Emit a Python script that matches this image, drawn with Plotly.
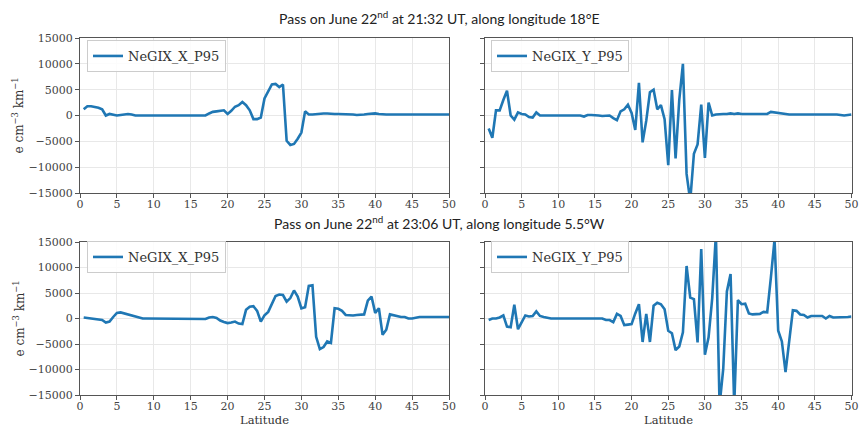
import plotly.graph_objects as go

LAT = [0.5, 1.0, 1.5, 2.0, 2.5, 3.0, 3.5, 4.0, 4.5, 5.0,
       5.5, 6.0, 6.5, 7.0, 7.5, 8.0, 8.5, 9.0, 9.5, 10.0,
       10.5, 11.0, 11.5, 12.0, 12.5, 13.0, 13.5, 14.0, 14.5, 15.0,
       15.5, 16.0, 16.5, 17.0, 17.5, 18.0, 18.5, 19.0, 19.5, 20.0,
       20.5, 21.0, 21.5, 22.0, 22.5, 23.0, 23.5, 24.0, 24.5, 25.0,
       25.5, 26.0, 26.5, 27.0, 27.5, 28.0, 28.5, 29.0, 29.5, 30.0,
       30.5, 31.0, 31.5, 32.0, 32.5, 33.0, 33.5, 34.0, 34.5, 35.0,
       35.5, 36.0, 36.5, 37.0, 37.5, 38.0, 38.5, 39.0, 39.5, 40.0,
       40.5, 41.0, 41.5, 42.0, 42.5, 43.0, 43.5, 44.0, 44.5, 45.0,
       45.5, 46.0, 46.5, 47.0, 47.5, 48.0, 48.5, 49.0, 49.5, 50.0]

P1_X = [1200, 1800, 1800, 1700, 1500, 1200, 0, 300, 200, 0,
        100, 200, 300, 200, 0, 0, 0, 0, 0, 0,
        0, 0, 0, 0, 0, 0, 0, 0, 0, 0,
        0, 0, 0, 0, 400, 700, 800, 900, 1000, 300,
        900, 1700, 2000, 2600, 2000, 1000, -700, -700, -400, 3300,
        4600, 6000, 6100, 5500, 6000, -4900, -5700, -5500, -4500, -3300,
        800, 200, 200, 300, 300, 400, 400, 300, 300, 300,
        300, 300, 200, 200, 100, 100, 200, 300, 400, 400,
        300, 200, 200, 200, 200, 200, 200, 200, 200, 100,
        100, 100, 100, 100, 100, 150, 150, 150, 200, 200]

P1_Y = [-2500, -4300, 1000, 1000, 3000, 4800, 0, -800, 600, 300,
        200, -300, -400, 600, 0, 0, 0, 0, 0, 0,
        0, 0, 0, 0, 0, 0, -200, 100, 100, 100,
        0, -100, 0, 0, -500, -900, 800, 1200, 2100, 500,
        -2800, 6300, -5200, -1000, 4500, 5000, 1200, 2000, -700, -9600,
        4900, -8300, 3000, 10000, -11300, -16500, -7400, -5600, 2100, -8200,
        2500, 0, 200, 300, 300, 300, 400, 300, 400, 300,
        300, 300, 300, 300, 200, 200, 300, 700, 600, 500,
        300, 200, 200, 200, 200, 300, 300, 300, 300, 300,
        200, 200, 200, 200, 200, 200, 100, 0, 100, 200]

P2_X = [200, 100, 0, -100, -200, -300, -800, -600, 300, 1100,
        1200, 1000, 700, 600, 400, 100, 0, 0, 0, 0,
        0, 0, 0, 0, 0, 0, 0, 0, 0, 0,
        0, 0, 0, -100, 200, 300, 100, -400, -700, -900,
        -800, -600, -1000, -1100, 1700, 2300, 2400, 1500, -600, 600,
        1300, 2700, 4400, 4700, 4600, 3300, 4000, 5500, 4300, 2000,
        2200, 6400, 6500, -3600, -6000, -5600, -4500, -4800, 2000, 1900,
        1500, 700, 600, 600, 700, 800, 800, 3500, 4300, 1100,
        2000, -3200, -2200, 800, 600, 500, 300, 300, 0, 0,
        200, 300, 300, 300, 200, 200, 300, 300, 300, 300]

P2_Y = [-300, 0, 0, 200, 600, -1600, -1700, 2700, -2100, -700,
        600, 400, 500, 1400, 500, 300, 100, 0, 0, 0,
        0, 0, 0, 0, 0, 0, 0, 0, 0, 0,
        0, 0, -300, -300, -700, 900, 500, -1300, -1200, -1100,
        1000, 2800, -4600, 900, -4600, 2500, 3100, 2800, 1800, -2400,
        -2900, -6200, -5500, -2700, 10300, 4100, 3800, -4700, 13600, -7100,
        -3700, 4000, 16500, -17000, -9900, 5300, 8700, -17000, 3600, 2800,
        2900, 1000, 800, 800, 900, 1300, 1200, 8000, 15500, -2400,
        -4500, -10500, -4000, 1600, 1500, 800, 700, 200, 500, 500,
        500, 500, 0, 500, 200, 200, 200, 200, 300, 400]

NAMES = ["NeGIX_X_P95", "NeGIX_Y_P95", "NeGIX_X_P95", "NeGIX_Y_P95"]
SERIES = [P1_X, P1_Y, P2_X, P2_Y]
XTICKS = [0, 5, 10, 15, 20, 25, 30, 35, 40, 45, 50]
YTICKS = [-15000, -10000, -5000, 0, 5000, 10000, 15000]
YTICKTEXT = ["\u221215000", "\u221210000", "\u22125000", "0", "5000", "10000", "15000"]
TITLES = ["Pass on June 22<sup>nd</sup> at 21:32 UT, along longitude 18°E",
          "Pass on June 22<sup>nd</sup> at 23:06 UT, along longitude 5.5°W"]
YLABEL = "e cm<sup>\u22123</sup> km<sup>\u22121</sup>"
XLABEL = "Latitude"

W, H = 859, 427
XDOM = [[80 / W, 449 / W], [485 / W, 851.5 / W]]
YDOM = [[1 - 193 / H, 1 - 38 / H], [1 - 395 / H, 1 - 242 / H]]

SERIF = "DejaVu Serif"
BLUE = "#1f77b4"

fig = go.Figure()
layout = {}
for i in range(4):
    row, col = divmod(i, 2)
    sfx = "" if i == 0 else str(i + 1)
    lg = "legend" if i == 0 else "legend" + str(i + 1)
    fig.add_trace(go.Scatter(x=LAT, y=SERIES[i], mode="lines", name=NAMES[i],
                             line=dict(color=BLUE, width=2.6),
                             xaxis="x" + sfx, yaxis="y" + sfx, legend=lg,
                             showlegend=True))
    layout["xaxis" + sfx] = dict(domain=XDOM[col], anchor="y" + sfx, range=[0, 50],
                                 automargin=False, ticklabelstandoff=-3,
                                 tickvals=XTICKS, ticks="outside", ticklen=4,
                                 tickcolor="#555", showline=True, linecolor="#555",
                                 linewidth=1, mirror=True, showgrid=True,
                                 gridcolor="#e8e8e8", gridwidth=1, zeroline=False,
                                 tickfont=dict(family=SERIF, size=11, color="#444"))
    layout["yaxis" + sfx] = dict(domain=YDOM[row], anchor="x" + sfx, range=[-15000, 15000],
                                 automargin=False,
                                 tickvals=YTICKS, ticktext=YTICKTEXT, ticks="outside",
                                 ticklen=4, tickcolor="#555", showline=True,
                                 linecolor="#555", linewidth=1, mirror=True,
                                 showgrid=True, gridcolor="#e8e8e8", gridwidth=1,
                                 zeroline=False, showticklabels=(col == 0),
                                 tickfont=dict(family=SERIF, size=11, color="#444"))
    lx = (87 if col == 0 else 491) / W
    ly = 1 - (56 if row == 0 else 257) / H
    layout[lg] = dict(x=lx, y=ly, xanchor="left", yanchor="middle",
                      bgcolor="rgba(255,255,255,0.85)", bordercolor="#cccccc",
                      borderwidth=1, font=dict(family=SERIF, size=13, color="#333"),
                      itemwidth=30, tracegroupgap=0)

annotations = []
for r, t in enumerate(TITLES):
    annotations.append(dict(text=t, x=439 / W, y=1 - (17 if r == 0 else 222) / H,
                            xref="paper", yref="paper", showarrow=False,
                            xanchor="center", yanchor="middle",
                            font=dict(family="Lato", size=14, color="#222")))
    yc = (YDOM[r][0] + YDOM[r][1]) / 2
    annotations.append(dict(text=YLABEL, x=18 / W, y=yc, xref="paper", yref="paper",
                            showarrow=False, textangle=-90, xanchor="center",
                            yanchor="middle",
                            font=dict(family=SERIF, size=12, color="#333")))
for c in range(2):
    annotations.append(dict(text=XLABEL, x=(XDOM[c][0] + XDOM[c][1]) / 2,
                            y=-1 / H, xref="paper", yref="paper", showarrow=False,
                            xanchor="center", yanchor="bottom", borderpad=0,
                            font=dict(family=SERIF, size=11.5, color="#333")))

fig.update_layout(width=W, height=H, margin=dict(l=0, r=0, t=0, b=0),
                  paper_bgcolor="white", plot_bgcolor="white",
                  annotations=annotations, **layout)

fig.write_html("out.html")
